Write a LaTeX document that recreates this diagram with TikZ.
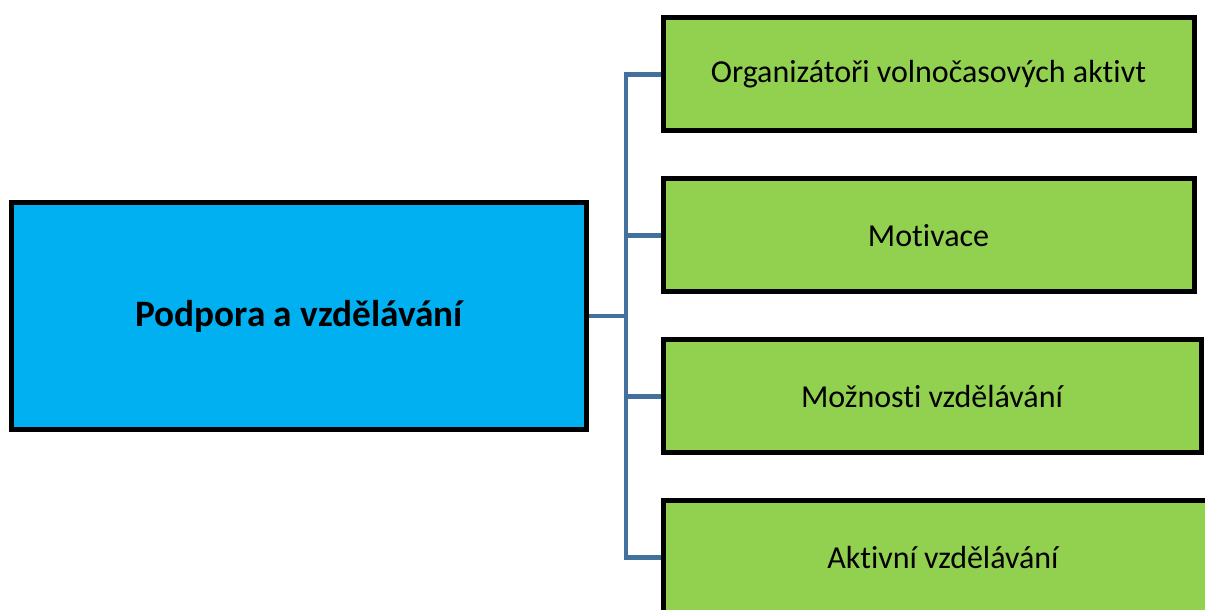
\documentclass[tikz,border=0pt]{standalone}
\usepackage{fontspec}
\setmainfont{Carlito}[Ligatures=NoCommon]
\definecolor{boxblue}{HTML}{00B0F0}
\definecolor{boxgreen}{HTML}{92D050}
\definecolor{linkblue}{HTML}{41719C}

\begin{document}
\begin{tikzpicture}[x=1pt, y=1pt,
main/.style={rectangle, draw=black, fill=boxblue, line width=5pt, minimum width=575pt, minimum height=227pt, font=\bfseries\fontsize{37.3}{44}\selectfont},
topic/.style={rectangle, draw=black, fill=boxgreen, line width=5pt, minimum height=113pt, anchor=west, font=\fontsize{32}{38}\selectfont},
grow'=right,
level 1/.style={sibling distance=161pt, level distance=361.5pt},
edge from parent/.style={draw=linkblue, line width=4.5pt},
edge from parent path={(\tikzparentnode.east) -- ++(37pt,0) |- (\tikzchildnode.west)},
]
\useasboundingbox (0,0) rectangle (1205,610);
\clip (0,0) rectangle (1205,610);
\node[main] (P) at (299,294) {Podpora a vzdělávání}
	child { node (O) [topic, minimum width=531pt] {Organizátoři volnočasových aktivt} }
	child { node (M) [topic, minimum width=531pt] {Motivace} }
	child { node (V) [topic, minimum width=538pt] {Možnosti vzdělávání} }
	child { node (A) [topic, minimum width=560pt] {Aktivní vzdělávání} };
\end{tikzpicture}
\end{document}
